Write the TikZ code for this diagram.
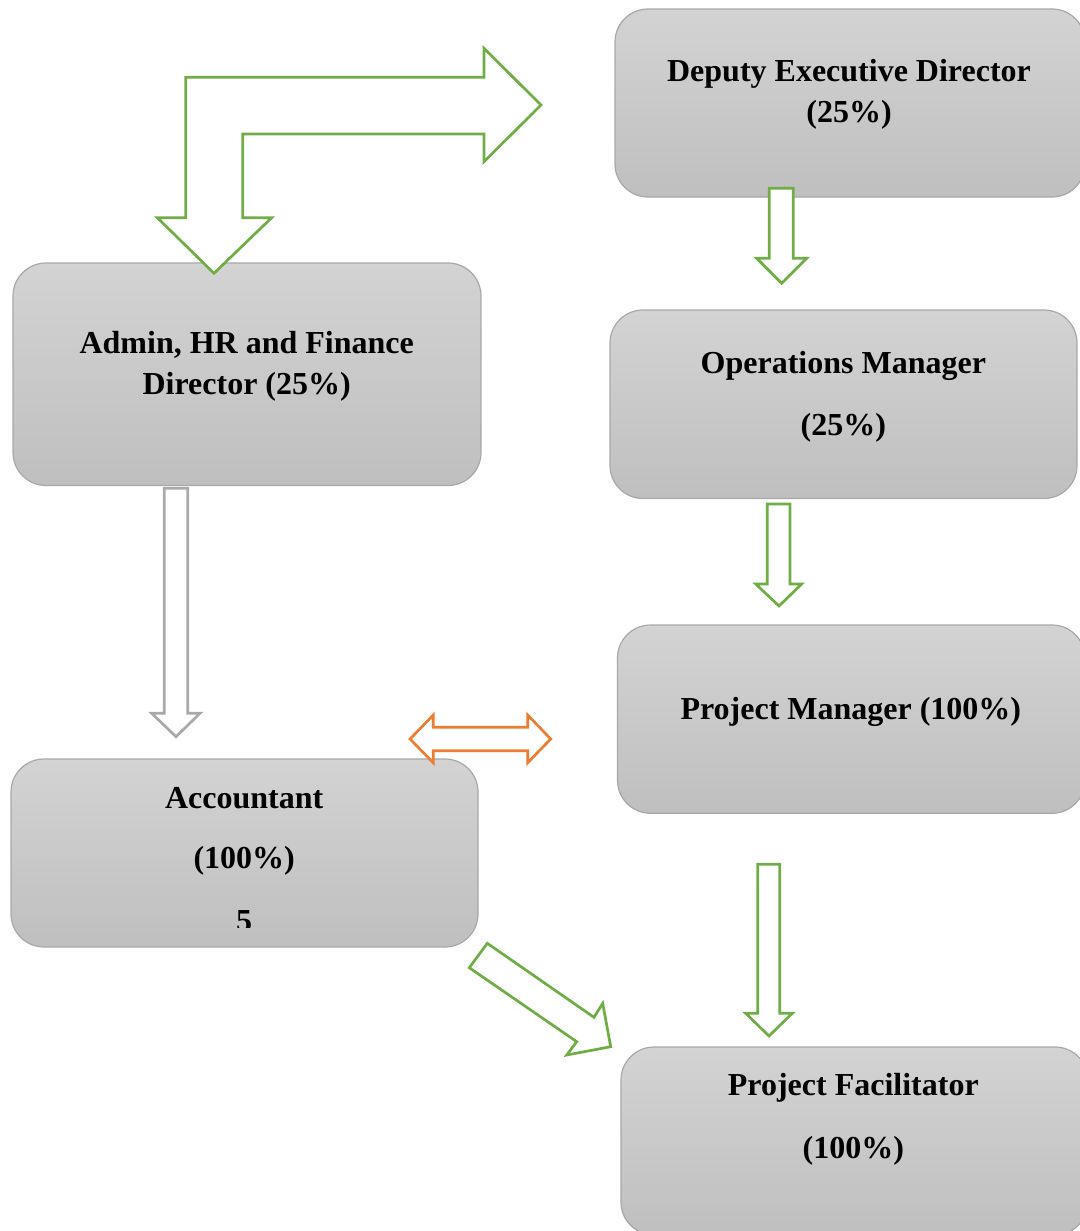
\documentclass[tikz,border=0pt]{standalone}
\usepackage{fontspec}
\setmainfont{Liberation Serif}
\definecolor{boxtop}{HTML}{D3D3D3}
\definecolor{boxbot}{HTML}{BFBFBF}
\definecolor{boxline}{HTML}{A8A8A8}
\definecolor{agreen}{HTML}{70AD47}
\definecolor{aorange}{HTML}{ED7D31}
\definecolor{agray}{HTML}{A9A9A9}
\tikzset{
  box/.style={draw=boxline, line width=0.6pt, rounded corners=16.5pt,
    top color=boxtop, bottom color=boxbot, inner sep=0pt},
  lbl/.style={anchor=base, inner sep=0pt, font=\bfseries\fontsize{16pt}{19pt}\selectfont},
  garrow/.style={draw=agreen, fill=white, line width=1.35pt, line join=miter},
  oarrow/.style={draw=aorange, fill=white, line width=1.35pt, line join=miter},
  grarrow/.style={draw=agray, fill=white, line width=1.35pt, line join=miter}
}
\begin{document}
\begin{tikzpicture}[x=0.5pt, y=-0.5pt]
\useasboundingbox (0,0) rectangle (1080,1231);
% boxes
\node[box, minimum width=235pt, minimum height=94pt] (dep) at (850,103) {};
\node[box, minimum width=234pt, minimum height=111.25pt] (adm) at (247,374.25) {};
\node[box, minimum width=233.5pt, minimum height=94.25pt] (ops) at (843.5,404.25) {};
\node[box, minimum width=233.75pt, minimum height=94.15pt] (pm) at (851.25,719.15) {};
\node[box, minimum width=233.5pt, minimum height=94pt] (acc) at (244.5,853) {};
\node[box, minimum width=233.5pt, minimum height=94pt] (pf) at (854.5,1141) {};
% labels
\node[lbl] (depa) at (849,81.7) {Deputy Executive Director};
\node[lbl] (depb) at (849,122) {(25\%)};
\node[lbl] (adma) at (246.7,353.3) {Admin, HR and Finance};
\node[lbl] (admb) at (246.7,394) {Director (25\%)};
\node[lbl] (opsa) at (843.3,373.3) {Operations Manager};
\node[lbl] (opsb) at (843.3,435) {(25\%)};
\node[lbl] (pma) at (850.8,719.3) {Project Manager (100\%)};
\node[lbl] (acca) at (244.2,808.3) {Accountant};
\node[lbl] (accb) at (244.2,868.3) {(100\%)};
\begin{scope}
\clip (0,890) rectangle (480,927);
\node[lbl] (accc) at (244.2,931) {5};
\end{scope}
\node[lbl] (pfa) at (853.3,1095) {Project Facilitator};
\node[lbl] (pfb) at (853.3,1158) {(100\%)};
% bent arrow (admin <-> deputy)
\draw[garrow] (185.7,217.7) -- (185.7,77.3) -- (484,77.3) -- (484,48.3) -- (541,105)
  -- (484,161.7) -- (484,134) -- (242.7,134) -- (242.7,217.7) -- (271.7,217.7)
  -- (214,273.3) -- (157.3,217.7) -- cycle;
% deputy -> ops
\draw[garrow] (769.3,188.3) -- (793.3,188.3) -- (793.3,258.3) -- (806.7,258.3)
  -- (781.7,283.3) -- (756.7,258.3) -- (769.3,258.3) -- cycle;
% ops -> pm
\draw[garrow] (767.3,504) -- (790,504) -- (790,584) -- (801.7,584)
  -- (779,606) -- (755.7,584) -- (767.3,584) -- cycle;
% pm -> pf
\draw[garrow] (757.7,864.3) -- (779.7,864.3) -- (779.7,1013.3) -- (792.3,1013.3)
  -- (769,1036) -- (745.7,1013.3) -- (757.7,1013.3) -- cycle;
% admin -> accountant
\draw[grarrow] (164.3,488.3) -- (187.7,488.3) -- (187.7,713.3) -- (200,713.3)
  -- (176,736.7) -- (151.7,713.3) -- (164.3,713.3) -- cycle;
% accountant <-> pm
\draw[oarrow] (410,739) -- (433.3,715) -- (433.3,727.3) -- (527.7,727.3) -- (527.7,715)
  -- (550.7,739) -- (527.7,762.7) -- (527.7,750.7) -- (433.3,750.7) -- (433.3,762.7) -- cycle;
% accountant -> pf
\draw[garrow] (487.3,943.3) -- (594,1017.3) -- (602.7,1003.3) -- (610.7,1046.7)
  -- (566.7,1055) -- (576.7,1041.7) -- (469.3,967.7) -- cycle;
\end{tikzpicture}
\end{document}
